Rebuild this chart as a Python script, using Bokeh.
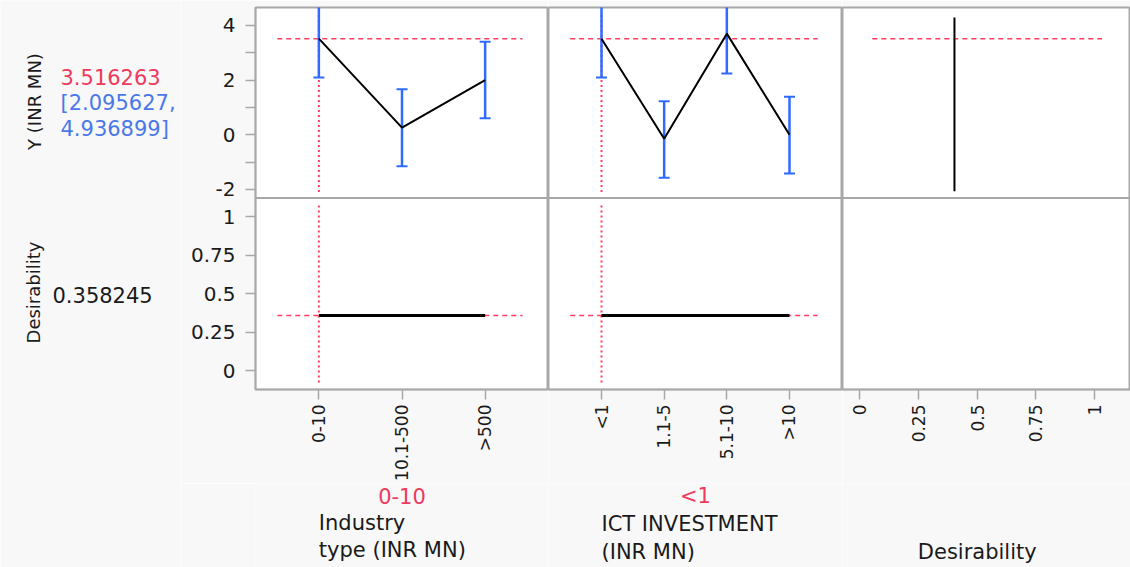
from math import pi
from bokeh.plotting import figure
from bokeh.models import (Range1d, FactorRange, FixedTicker, CustomJSTickFormatter,
                          LinearAxis, CategoricalAxis, Span)
from bokeh.layouts import row, column
from bokeh.embed import file_html
from bokeh.resources import INLINE
from bokeh.core.properties import value

# ---------------- data ----------------
ind_cats = ["0-10", "10.1-500", ">500"]
ind_pred = [3.516263, 0.26, 2.00]
ind_lower = [2.095627, -1.16, 0.60]
ind_upper = [4.936899, 1.66, 3.40]
ind_des = [0.358245, 0.358245, 0.358245]

ict_cats = ["<1", "1.1-5", "5.1-10", ">10"]
ict_pred = [3.516263, -0.15, 3.70, 0.00]
ict_lower = [2.095627, -1.58, 2.24, -1.42]
ict_upper = [4.936899, 1.22, 5.16, 1.39]
ict_des = [0.358245, 0.358245, 0.358245, 0.358245]

current_ind = "0-10"
current_ict = "<1"
current_y = 3.516263
current_ci = [2.095627, 4.936899]
current_des = 0.358245

# desirability function trace (desirability vs Y)
desfn_d = [0.403, 0.403]
desfn_y = [4.29, -2.07]

y_ticks = [-2, 0, 2, 4]
y_minor = [-1, 1, 3]
des_ticks = [0, 0.25, 0.5, 0.75, 1]

x_titles = [["Industry", "type (INR MN)"], ["ICT INVESTMENT", "(INR MN)"], ["Desirability"]]
y_titles = ["Y (INR MN)", "Desirability"]

# ---------------- style ----------------
BG = "#f8f8f8"
GRAY = "#a8a8a8"
RED = "#ff3d63"
RED_TXT = "#ee3a5c"
BLUE = "#2f6bff"
BLUE_TXT = "#4a78e8"
INK = "#1a1a1a"
FONT = "DejaVu Sans"

# each column figure holds the response panel (top) and desirability panel (bottom)
top_lo, top_hi = -2.318, 4.657      # visible Y range of the top panel
bot_lo, bot_hi = -0.123, 1.121      # visible desirability range of the bottom panel
TOP_PX, BOT_PX = 191, 192
m_hi = top_hi
m_lo = top_hi - (top_hi - top_lo) * (TOP_PX + BOT_PX) / TOP_PX
e_lo = bot_lo
e_hi = bot_lo + (bot_hi - bot_lo) * (TOP_PX + BOT_PX) / BOT_PX


def to_main(d):
    return m_lo + (d - e_lo) / (e_hi - e_lo) * (m_hi - m_lo)


r_ind = FactorRange(factors=ind_cats, range_padding=0.262, range_padding_units="absolute")
r_ict = FactorRange(factors=ict_cats, range_padding=0.346, range_padding_units="absolute")
r_des = Range1d(-0.074, 1.153)

COL_H = 7 + TOP_PX + BOT_PX + 93


def base(w, h, xr, yr, left=0, bottom=0, top=0, panel=True):
    p = figure(width=w, height=h, x_range=xr, y_range=yr, output_backend="svg",
               toolbar_location=None, x_axis_location=None, y_axis_location=None,
               min_border=0, min_border_left=left, min_border_right=0,
               min_border_top=top, min_border_bottom=bottom,
               background_fill_color="white" if panel else BG, border_fill_color=BG,
               outline_line_color=GRAY if panel else None, outline_line_width=2)
    p.grid.visible = False
    return p


def style_axis(ax, size, standoff, orient=None):
    ax.axis_line_color = GRAY
    ax.axis_line_width = 1.5
    ax.major_tick_line_color = GRAY
    ax.major_tick_line_width = 1.5
    ax.major_tick_out = 10
    ax.major_tick_in = 0
    ax.minor_tick_line_color = GRAY
    ax.minor_tick_line_width = 1.5
    ax.minor_tick_out = 10
    ax.minor_tick_in = 0
    ax.major_label_text_font = FONT
    ax.major_label_text_font_size = size
    ax.major_label_text_color = INK
    ax.major_label_standoff = standoff
    if orient is not None:
        ax.major_label_orientation = orient


def column_fig(w, xr, left=0):
    p = base(w, COL_H, xr, Range1d(m_lo, m_hi), left=left, top=7, bottom=93)
    p.extra_y_ranges = {"des": Range1d(e_lo, e_hi)}
    p.add_layout(Span(location=top_lo, dimension="width", line_color=GRAY, line_width=2))
    return p


p1 = column_fig(368, r_ind, left=75)
p2 = column_fig(294, r_ict)
p3 = column_fig(288, r_des)

# left axis of the first column: Y ticks in the top panel, desirability ticks in the bottom one
ya = LinearAxis(ticker=FixedTicker(ticks=y_ticks + [to_main(d) for d in des_ticks],
                                   minor_ticks=y_minor),
                formatter=CustomJSTickFormatter(code=f"""
    if (tick >= {top_lo}) return tick.toString();
    const d = {e_lo} + (tick - ({m_lo})) / ({m_hi} - ({m_lo})) * ({e_hi} - ({e_lo}));
    return (Math.round(d * 100) / 100).toString();
"""))
style_axis(ya, "20px", 10)
p1.add_layout(ya, "left")

for p in (p1, p2):
    xa = CategoricalAxis()
    style_axis(xa, "17px", 5, orient=pi / 2)
    p.add_layout(xa, "below")

xd = LinearAxis(ticker=FixedTicker(ticks=des_ticks, minor_ticks=[]),
                formatter=CustomJSTickFormatter(code="return tick.toString();"))
style_axis(xd, "17px", 5, orient=pi / 2)
p3.add_layout(xd, "below")

for p, cats, pred, lo, hi, des, cur in [
        (p1, ind_cats, ind_pred, ind_lower, ind_upper, ind_des, current_ind),
        (p2, ict_cats, ict_pred, ict_lower, ict_upper, ict_des, current_ict)]:
    n = len(cats)
    # top panel: response trace
    p.segment(x0=[0.0], y0=[current_y], x1=[n - 0.05], y1=[current_y],
              line_color=RED, line_width=1.5, line_dash="5 4")
    p.segment(x0=[cur], y0=[-2.10], x1=[cur], y1=[4.45],
              line_color=RED, line_width=2, line_dash="2 3")
    p.segment(x0=cats, y0=lo, x1=cats, y1=hi, line_color=BLUE, line_width=2.5)
    p.scatter(x=cats, y=lo, marker="dash", size=11, line_color=BLUE, line_width=2)
    p.scatter(x=cats, y=hi, marker="dash", size=11, line_color=BLUE, line_width=2)
    p.line(x=cats, y=pred, line_color="black", line_width=2)
    # bottom panel: desirability trace
    p.segment(x0=[0.0], y0=[current_des], x1=[n - 0.05], y1=[current_des],
              line_color=RED, line_width=1.5, line_dash="5 4", y_range_name="des")
    p.segment(x0=[cur], y0=[-0.078], x1=[cur], y1=[1.076],
              line_color=RED, line_width=2, line_dash="2 3", y_range_name="des")
    p.line(x=cats, y=des, line_color="black", line_width=3, y_range_name="des")

p3.segment(x0=[0.053], y0=[current_y], x1=[1.032], y1=[current_y],
           line_color=RED, line_width=1.5, line_dash="5 4")
p3.line(x=desfn_d, y=desfn_y, line_color="black", line_width=2)

# ---------------- bottom text strip ----------------
strip_h = 567 - COL_H
ys = Range1d(567, 567 - strip_h)
t1 = base(368, strip_h, r_ind, ys, left=75, panel=False)
t2 = base(294, strip_h, r_ict, ys, panel=False)
t3 = base(288, strip_h, r_des, ys, panel=False)

common = dict(text_font=value(FONT), text_font_size="21px", text_baseline="middle")
t1.text(x=[len(ind_cats) / 2], y=[495], text=[current_ind], text_color=RED_TXT,
        text_align="center", **common)
t2.text(x=[len(ict_cats) / 2], y=[495], text=[current_ict], text_color=RED_TXT,
        text_align="center", **common)
t1.text(x=[0.5, 0.5], y=[522, 549], text=x_titles[0], text_color=INK, text_align="left", **common)
t2.text(x=[0.5, 0.5], y=[523, 551], text=x_titles[1], text_color=INK, text_align="left", **common)
t3.text(x=[0.5], y=[551], text=x_titles[2], text_color=INK, text_align="center", **common)

# ---------------- left label column ----------------
lab = base(180, 567, Range1d(0, 180), Range1d(567, 0), panel=False)
lab.text(x=[34], y=[101], text=[y_titles[0]], angle=pi / 2, text_color=INK,
         text_font=value(FONT), text_font_size="18px", text_align="center", text_baseline="middle")
lab.text(x=[33], y=[292], text=[y_titles[1]], angle=pi / 2, text_color=INK,
         text_font=value(FONT), text_font_size="18px", text_align="center", text_baseline="middle")
lab.text(x=[60], y=[76], text=[f"{current_y:.6f}"], text_color=RED_TXT, text_align="left", **common)
lab.text(x=[60, 60], y=[102, 128], text=[f"[{current_ci[0]:.6f},", f"{current_ci[1]:.6f}]"],
         text_color=BLUE_TXT, text_align="left", **common)
lab.text(x=[52], y=[294], text=[f"{current_des:.6f}"], text_color=INK, text_align="left", **common)

layout = row(lab, column(row(p1, p2, p3), row(t1, t2, t3)))

open("out.html", "w").write(file_html(layout, INLINE))
